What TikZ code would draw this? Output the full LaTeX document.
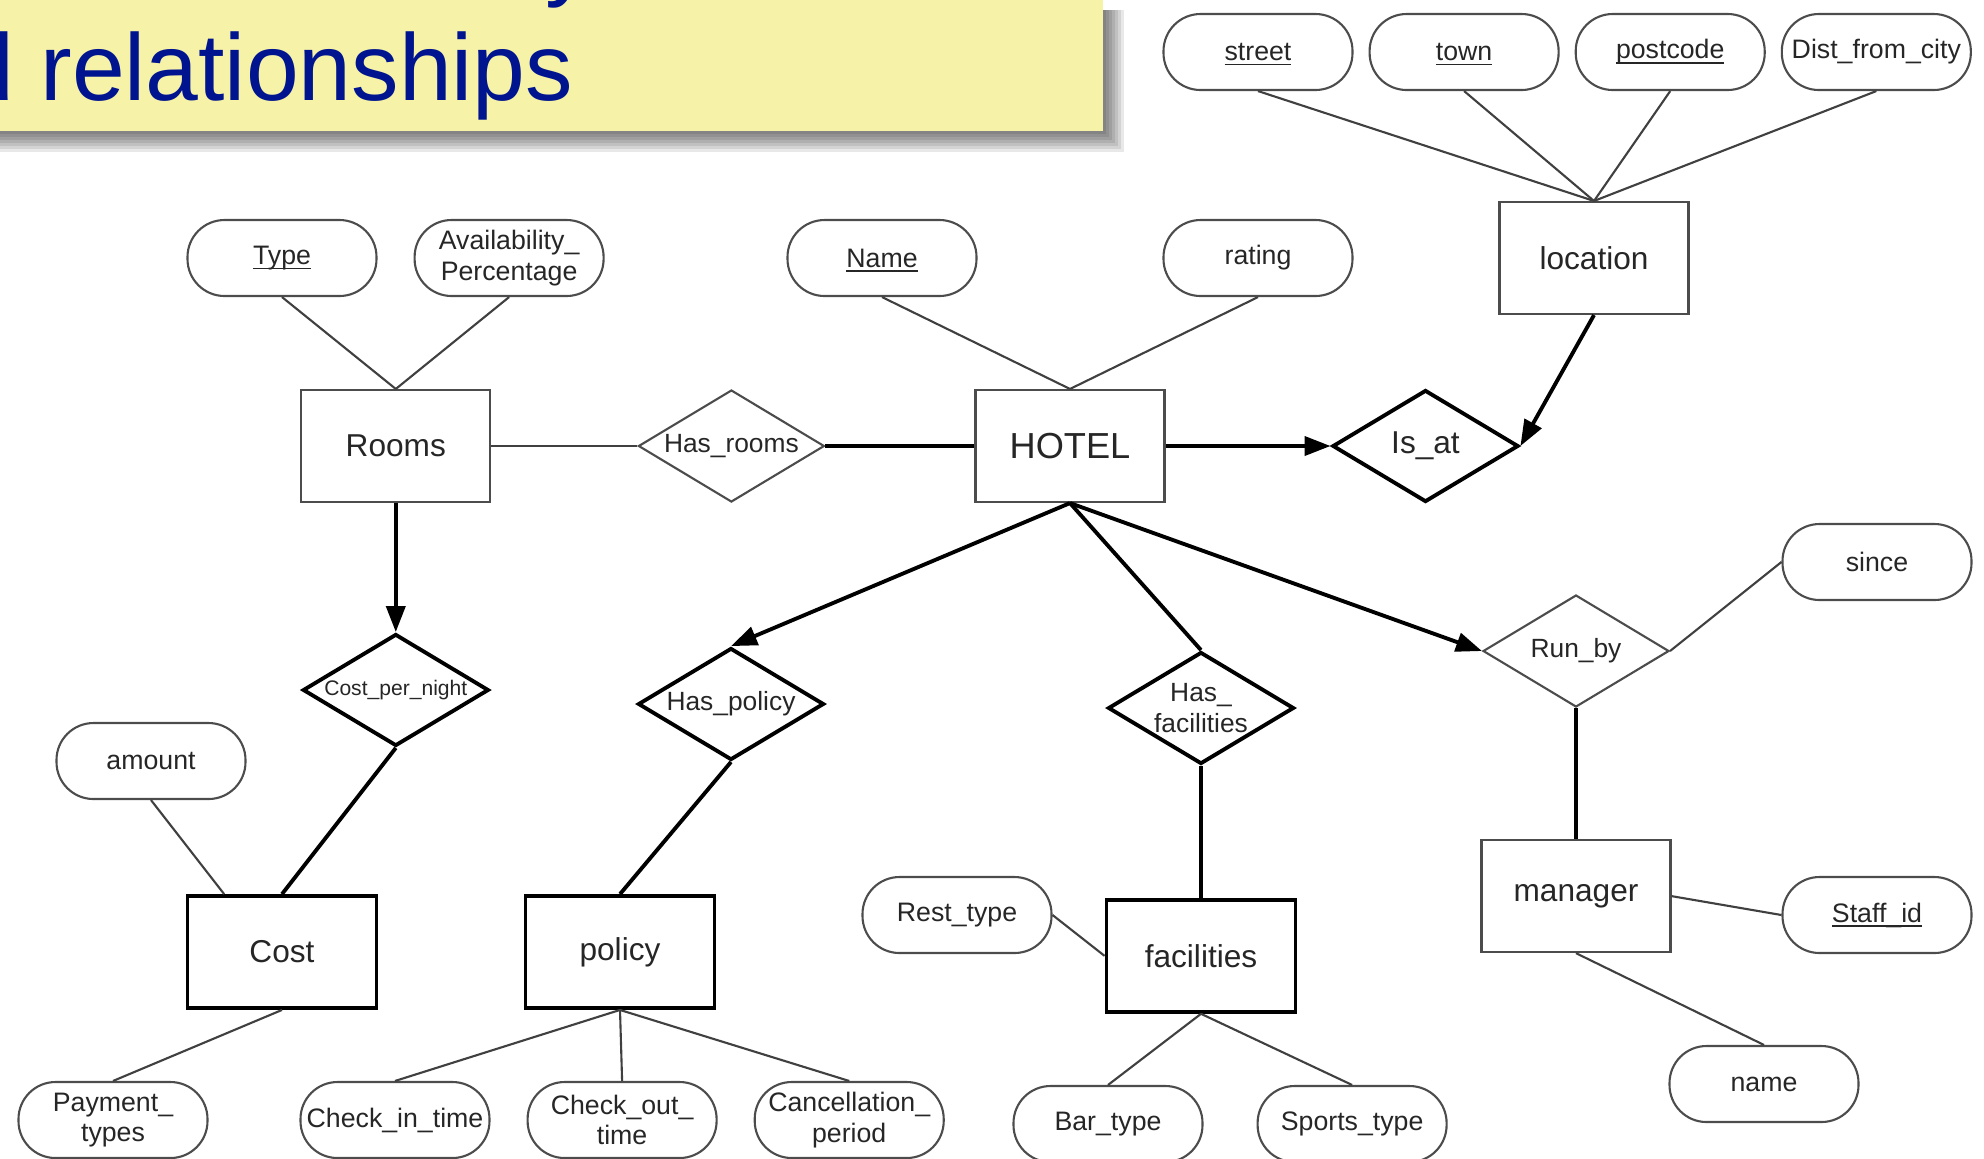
\documentclass[tikz,border=0pt]{standalone}
\usepackage{fontspec}
\setmainfont{Liberation Sans}
\usetikzlibrary{positioning,shapes.geometric,arrows.meta,calc}
\definecolor{notepad}{HTML}{F6F2A8}
\definecolor{titleblue}{HTML}{00148F}

% key attribute: underline at a fixed depth
\newcommand\keyattr[1]{\sbox0{#1}\rlap{\smash{\rule[-1.4pt]{\wd0}{.45pt}}}\usebox0}

\tikzset{
  attr/.style={draw=black!70, line width=.6pt, rounded corners=3.7mm, minimum width=1.89cm,
    minimum height=.76cm, inner sep=0pt, align=center, text=black!85,
    font=\fontsize{7.6}{8.6}\selectfont},
  ent/.style={draw=black!70, line width=.6pt, minimum width=1.89cm, minimum height=1.12cm,
    inner sep=0pt, text=black!85, font=\fontsize{9}{11}\selectfont},
  strongent/.style={ent, draw=black, line width=1.1pt},
  rel/.style={diamond, shape aspect=1.66, draw=black, line width=1.1pt, minimum width=1.86cm,
    minimum height=1.12cm, inner sep=0pt, align=center, text=black!85,
    font=\fontsize{7.5}{9}\selectfont},
  weakrel/.style={rel, draw=black!70, line width=.6pt},
  attrline/.style={draw=black!75, line width=.6pt},
  relline/.style={draw=black, line width=1.1pt},
  titletext/.style={inner sep=0pt, text=titleblue, font=\fontsize{27}{32}\selectfont}
}

\begin{document}
\begin{tikzpicture}[x=0.1mm, y=-0.1mm, >={Triangle[length=2.6mm,width=1.9mm]}]
  \useasboundingbox (0,0) rectangle (1984,1158);

  % title banner
  \foreach \s in {3,6,...,21}
    \fill[black, opacity=.09] (-20,10) rectangle (1103+\s,131+\s);
  \fill[notepad] (-20,-20) rectangle (1103,131);
  \node[titletext, anchor=base east] (title) at (574,100) {and relationships};
  \node[titletext, anchor=base west] (titletop) at (545,-12) {y};

  % location
  \node[attr] (street) at (1258,52) {\keyattr{street}};
  \node[attr, right=.15cm of street] (town) {\keyattr{town}};
  \node[attr, right=.15cm of town] (postcode) {\keyattr{postcode}};
  \node[attr, right=.15cm of postcode] (distcity) {Dist\_from\_city};
  \node[ent] (location) at (1594,258) {location};

  % hotel row
  \node[ent, font=\fontsize{10.3}{12}\selectfont] (hotel) at (1070,446) {HOTEL};
  \node[weakrel, left=1.49cm of hotel] (hasrooms) {Has\_rooms};
  \node[ent, left=1.46cm of hasrooms] (rooms) {Rooms};
  \node[rel, right=1.65cm of hotel, font=\fontsize{9}{11}\selectfont] (isat) {Is\_at};

  \node[attr] (type) at (282,258) {\keyattr{Type}};
  \node[attr, right=.36cm of type] (avail) {Availability\_\\Percentage};
  \node[attr] (name) at (882,258) {\keyattr{Name}};
  \node[attr] (rating) at (1258,258) {rating};

  % relationships below
  \node[rel, below=1.29cm of rooms, font=\fontsize{6}{7}\selectfont] (costnight) {Cost\_per\_night};
  \node[rel] (haspolicy) at (731,704) {Has\_policy};
  \node[rel] (hasfac) at (1201,708) {Has\_\\facilities};
  \node[weakrel] (runby) at (1576,651) {Run\_by};
  \node[attr] (since) at (1877,562) {since};

  % lower entities
  \node[attr] (amount) at (151,761) {amount};
  \node[strongent] (cost) at (282,952) {Cost};
  \node[strongent] (policy) at (620,952) {policy};
  \node[strongent, below=1.32cm of hasfac] (facilities) {facilities};
  \node[attr] (resttype) at (957,915) {Rest\_type};
  \node[ent, below=1.31cm of runby] (manager) {manager};
  \node[attr] (staffid) at (1877,915) {\keyattr{Staff\_id}};
  \node[attr] (mgrname) at (1764,1084) {name};

  % bottom attributes
  \node[attr] (payment) at (113,1120) {Payment\_\\types};
  \node[attr] (checkin) at (395,1120) {Check\_in\_time};
  \node[attr, right=.36cm of checkin] (checkout) {Check\_out\_\\time};
  \node[attr, right=.36cm of checkout] (cancel) {Cancellation\_\\period};
  \node[attr] (bartype) at (1108,1124) {Bar\_type};
  \node[attr, right=.53cm of bartype] (sportstype) {Sports\_type};

  % attribute links
  \foreach \a in {street,town,postcode,distcity}
    \draw[attrline] (\a.south) -- (location.north);
  \foreach \a in {type,avail}
    \draw[attrline] (\a.south) -- (rooms.north);
  \foreach \a in {name,rating}
    \draw[attrline] (\a.south) -- (hotel.north);
  \draw[attrline] (amount.south) -- ($(cost.north west)!.2!(cost.north east)$);
  \draw[attrline] (cost.south) -- (payment.north);
  \foreach \a in {checkin,checkout,cancel}
    \draw[attrline] (policy.south) -- (\a.north);
  \foreach \a in {bartype,sportstype}
    \draw[attrline] (facilities.south) -- (\a.north);
  \draw[attrline] (resttype.east) -- (facilities.west);
  \draw[attrline] (manager.east) -- (staffid.west);
  \draw[attrline] (manager.south) -- (mgrname.north);
  \draw[attrline] (runby.east) -- (since.west);
  \draw[attrline] (rooms) -- (hasrooms);

  % relationship links
  \draw[relline] (hasrooms) -- (hotel);
  \draw[relline,->] (hotel) -- (isat);
  \draw[relline,->] (location.south) -- (isat.east);
  \draw[relline,->] (rooms) -- (costnight);
  \draw[relline] (costnight.south) -- (cost.north);
  \draw[relline,->] (hotel.south) -- (haspolicy.north);
  \draw[relline] (hotel.south) -- (hasfac.north);
  \draw[relline,->] (hotel.south) -- (runby.west);
  \draw[relline] (haspolicy.south) -- (policy.north);
  \draw[relline] (hasfac) -- (facilities);
  \draw[relline] (runby) -- (manager);
\end{tikzpicture}
\end{document}
